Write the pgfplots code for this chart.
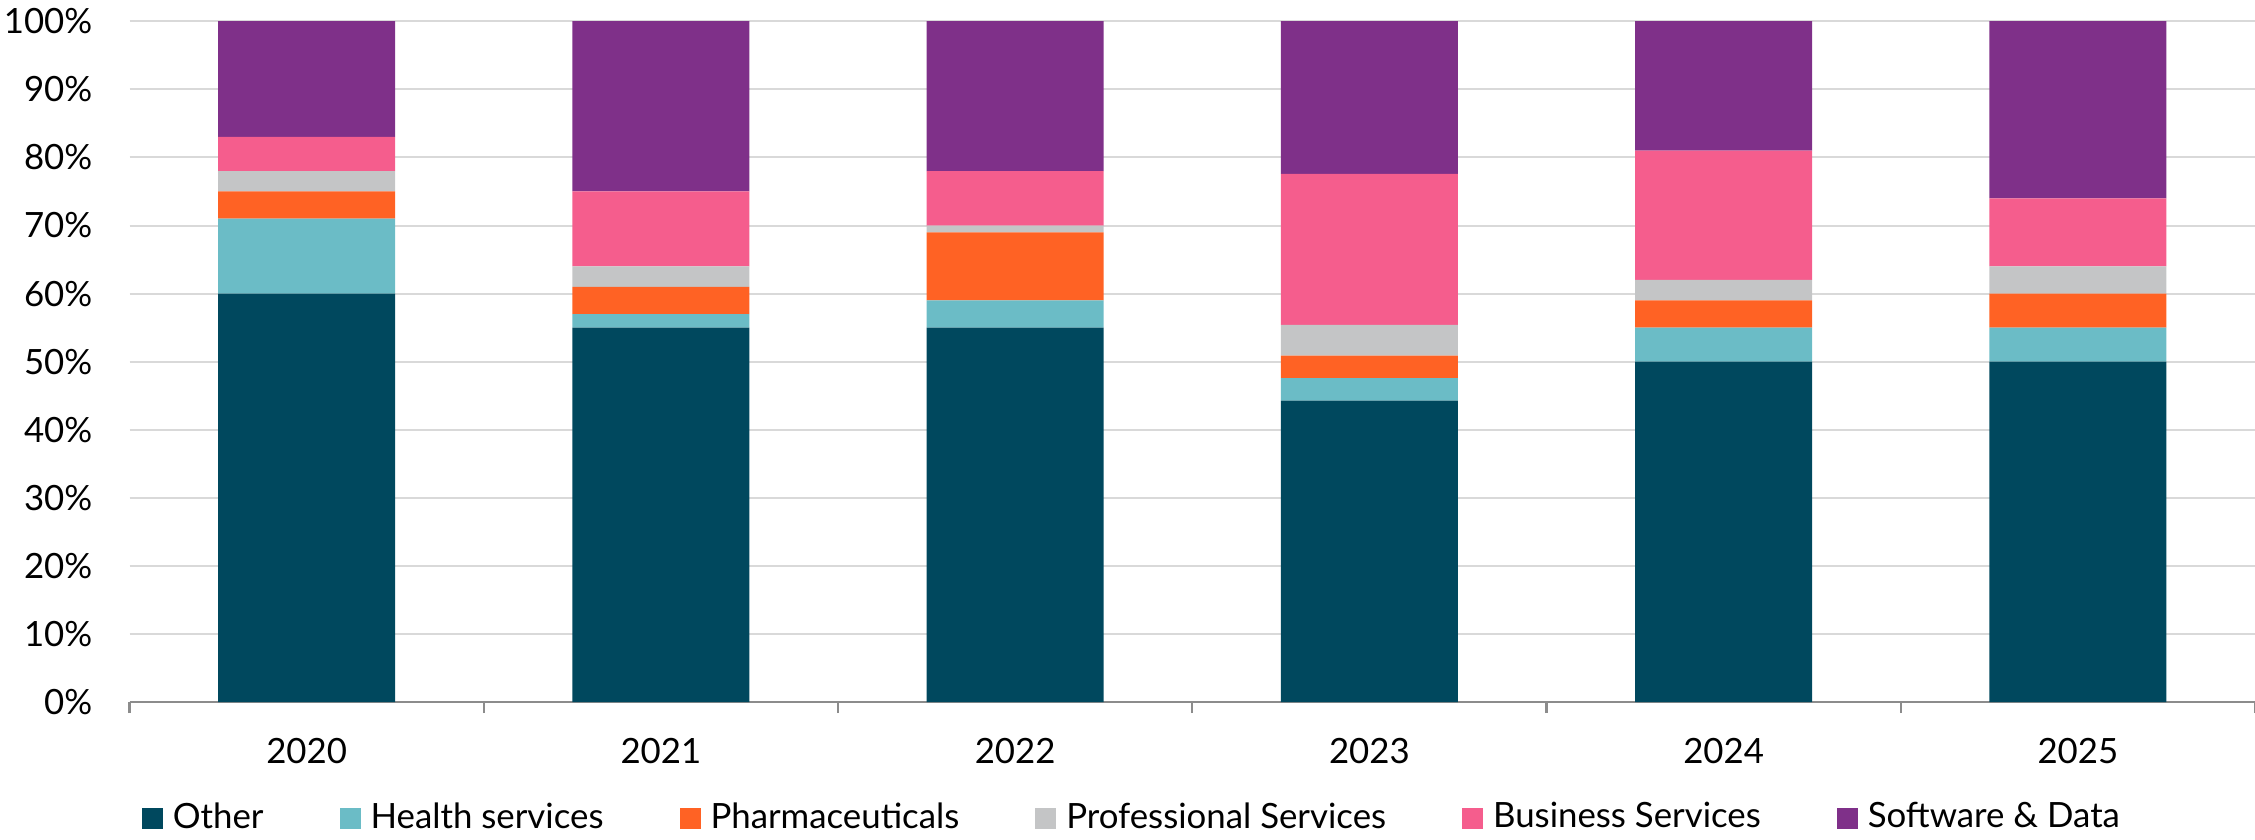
\documentclass[border=0pt]{standalone}
\usepackage{fontspec}
\setmainfont{Lato}
\usepackage{pgfplots}
\usepackage{pgfplotstable}
\pgfplotsset{compat=1.18}

\definecolor{cOther}{HTML}{00485E}
\definecolor{cHealth}{HTML}{6BBCC6}
\definecolor{cPharma}{HTML}{FF6224}
\definecolor{cProf}{HTML}{C4C5C6}
\definecolor{cBusiness}{HTML}{F55D8D}
\definecolor{cSoftware}{HTML}{7F3089}
\definecolor{gridgray}{HTML}{D9D9D9}
\definecolor{axisgray}{HTML}{8C8C8C}

% share of deals by sector, in %
\pgfplotstableread{
x Other Health Pharma Prof Business Software
0 60   11  4   3   5    17
1 55   2   4   3   11   25
2 55   4   10  1   8    22
3 44.3 3.3 3.3 4.5 22.2 22.4
4 50   5   4   3   19   19
5 50   5   5   4   10   26
}\shares

\begin{document}
\begin{tikzpicture}
\begin{axis}[
  name=ax,
  scale only axis, width=531.375pt, height=170.25pt,
  ybar stacked, bar width=0.5,
  xmin=-0.5, xmax=5.5, ymin=0, ymax=100,
  axis lines*=left,
  x axis line style={axisgray, line width=0.6pt},
  y axis line style={draw=none},
  xtick={0,1,2,3,4,5},
  xticklabels={2020,2021,2022,2023,2024,2025},
  minor xtick={-0.5,0.5,1.5,2.5,3.5,4.5,5.5},
  major tick length=0pt,
  minor tick length=2.75pt,
  tick align=outside,
  minor x tick style={axisgray, line width=0.6pt},
  ytick={0,10,...,100},
  yticklabel={\pgfmathprintnumber{\tick}\%},
  ymajorgrids,
  grid style={gridgray, line width=0.5pt},
  /pgf/number format/assume math mode=true,
  tick label style={font=\fontsize{8.7pt}{10pt}\selectfont},
  yticklabel style={anchor=east, inner sep=0pt, xshift=-9.1pt},
  xticklabel style={anchor=north, inner sep=0pt, yshift=-8.75pt},
  legend columns=-1,
  legend style={
    at={(0.4735,-0.1703)}, anchor=center,
    draw=none, fill=none, inner sep=0pt,
    font=\fontsize{8.7pt}{10pt}\selectfont,
    nodes={inner xsep=2.5pt, inner ysep=0pt},
    /tikz/every even column/.append style={column sep=16.5pt},
  },
  legend image code/.code={\fill[#1] (0pt,-2.625pt) rectangle (5.25pt,2.625pt);},
]
\addplot[fill=cOther, draw=none] table[x=x, y=Other] {\shares};
\addplot[fill=cHealth, draw=none] table[x=x, y=Health] {\shares};
\addplot[fill=cPharma, draw=none] table[x=x, y=Pharma] {\shares};
\addplot[fill=cProf, draw=none] table[x=x, y=Prof] {\shares};
\addplot[fill=cBusiness, draw=none] table[x=x, y=Business] {\shares};
\addplot[fill=cSoftware, draw=none] table[x=x, y=Software] {\shares};
\legend{Other,Health services,Pharmaceuticals,Professional Services,Business Services,Software \& Data}
\end{axis}
\pgfresetboundingbox
\path[use as bounding box] ([shift={(-32.375pt,-34.25pt)}]ax.south west) rectangle ([shift={(0pt,5.3pt)}]ax.north east);
\end{tikzpicture}
\end{document}
